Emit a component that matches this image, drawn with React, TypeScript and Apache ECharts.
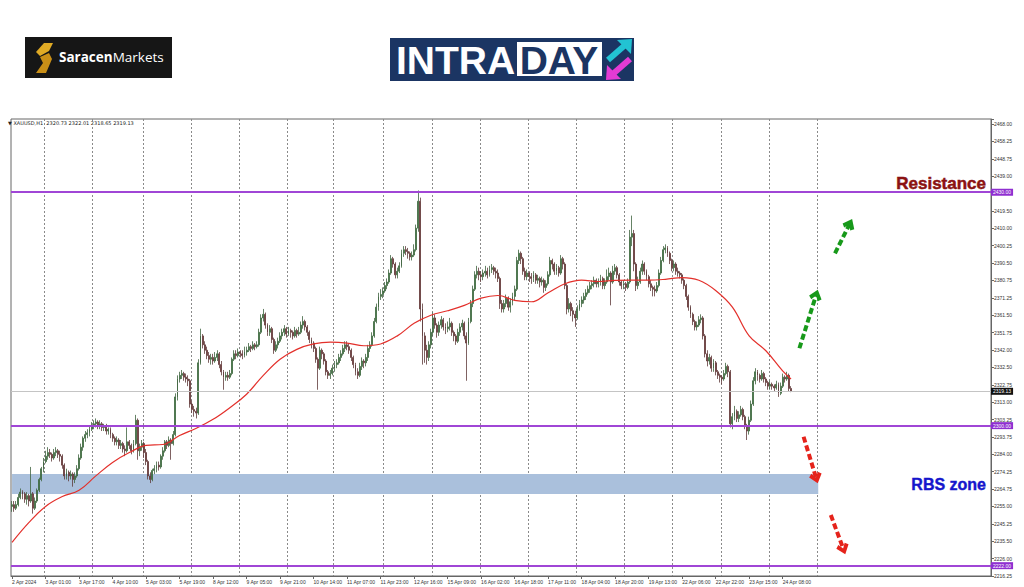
import React, { useEffect, useRef } from 'react';
import * as echarts from 'echarts';

// ---------- DATA ----------
const xLabels = ['2 Apr 2024', '3 Apr 01:00', '3 Apr 17:00', '4 Apr 10:00', '5 Apr 03:00', '5 Apr 19:00', '8 Apr 12:00', '9 Apr 05:00', '9 Apr 21:00', '10 Apr 14:00', '11 Apr 07:00', '11 Apr 23:00', '12 Apr 16:00', '15 Apr 09:00', '16 Apr 02:00', '16 Apr 18:00', '17 Apr 11:00', '18 Apr 04:00', '18 Apr 20:00', '19 Apr 13:00', '22 Apr 06:00', '22 Apr 22:00', '23 Apr 15:00', '24 Apr 08:00'];
const barsPerLabel = 16;
const totalSlots = 468;
// bar slots where the dotted day separators are drawn
const gridLineBars = [16, 39, 63, 86, 109, 132, 154, 178, 201, 224, 247, 270, 293, 316, 339, 362, 385];

const priceTickLabels = ['2216.25', '2226.00', '2235.50', '2245.25', '2255.00', '2264.75', '2274.25', '2284.00', '2293.75', '2303.25', '2313.00', '2322.75', '2332.50', '2342.00', '2351.75', '2361.50', '2371.25', '2380.75', '2390.50', '2400.25', '2410.00', '2419.50', '', '2439.00', '2448.75', '2458.25', '2468.00'];
const priceTickStart = 2216.25;
const priceTickEnd = 2468;
const priceMax = 2470.8;

const headerText = '\u25BC XAUUSD,H1  2320.73 2322.01 2318.65 2319.13';
const levelLines = [2430, 2300, 2222];
const lastPrice = 2319.13;
const rbsZone = [2261.9, 2273.1];
const rbsZoneEndBar = 385;
// [fromBar, fromPrice, toBar, toPrice]
const greenArrows = [[376, 2343.1, 384, 2372.8], [393, 2396.0, 400, 2412.3]];
const redArrows = [[378, 2293.8, 384, 2270.8], [391, 2250.2, 397, 2231.3]];

// H1 candles [open, close, low, high], one array per 16-bar label block
const seg00 = [[2255, 2256, 2252, 2258], [2256, 2254, 2252, 2258], [2254, 2256, 2253, 2258], [2256, 2260, 2255, 2262], [2260, 2263, 2259, 2265], [2263, 2262, 2259, 2264], [2262, 2259, 2257, 2263], [2259, 2261, 2256, 2263], [2261, 2258, 2255, 2262], [2258, 2262, 2257, 2277], [2262, 2254, 2251, 2263], [2254, 2258, 2253, 2260], [2258, 2264, 2257, 2265], [2264, 2270, 2263, 2271], [2270, 2276, 2269, 2277], [2276, 2280, 2274, 2282]];
const seg01 = [[2280, 2283, 2279, 2286], [2283, 2285, 2281, 2288], [2285, 2284, 2282, 2287], [2284, 2282, 2280, 2285], [2282, 2285, 2281, 2287], [2285, 2286, 2283, 2288], [2286, 2284, 2282, 2287], [2284, 2283, 2280, 2286], [2283, 2278, 2276, 2284], [2278, 2272, 2270, 2279], [2272, 2274, 2270, 2276], [2274, 2272, 2269, 2275], [2272, 2273, 2270, 2275], [2273, 2270, 2266, 2274], [2270, 2272, 2268, 2274], [2272, 2276, 2271, 2278]];
const seg02 = [[2276, 2282, 2275, 2284], [2282, 2288, 2281, 2290], [2288, 2293, 2286, 2294], [2293, 2295, 2291, 2297], [2295, 2296, 2293, 2298], [2296, 2298, 2294, 2300], [2298, 2300, 2297, 2302], [2300, 2301, 2298, 2303], [2301, 2302, 2299, 2304], [2302, 2300, 2298, 2303], [2300, 2301, 2298, 2303], [2301, 2299, 2297, 2302], [2299, 2300, 2297, 2301], [2300, 2297, 2295, 2301], [2297, 2298, 2295, 2299], [2298, 2295, 2293, 2299]];
const seg03 = [[2295, 2293, 2291, 2296], [2293, 2291, 2289, 2294], [2291, 2292, 2289, 2294], [2292, 2289, 2287, 2293], [2289, 2290, 2287, 2292], [2290, 2287, 2285, 2291], [2287, 2286, 2283, 2289], [2286, 2291, 2285, 2299], [2291, 2289, 2287, 2292], [2289, 2286, 2284, 2290], [2286, 2290, 2285, 2292], [2290, 2303, 2289, 2306], [2303, 2286, 2281, 2304], [2286, 2288, 2283, 2290], [2288, 2290, 2286, 2292], [2290, 2285, 2282, 2291]];
const seg04 = [[2285, 2280, 2278, 2287], [2280, 2272, 2270, 2281], [2272, 2270, 2268, 2274], [2270, 2275, 2269, 2276], [2275, 2276, 2273, 2278], [2276, 2278, 2274, 2280], [2278, 2277, 2275, 2280], [2277, 2283, 2276, 2284], [2283, 2286, 2281, 2288], [2286, 2291, 2285, 2292], [2291, 2289, 2287, 2292], [2289, 2292, 2288, 2294], [2292, 2290, 2281, 2293], [2290, 2295, 2289, 2297], [2295, 2316, 2294, 2318], [2316, 2326, 2314, 2328]];
const seg05 = [[2326, 2328, 2324, 2330], [2328, 2329, 2326, 2331], [2329, 2327, 2325, 2330], [2327, 2326, 2324, 2329], [2326, 2325, 2322, 2328], [2325, 2312, 2310, 2326], [2312, 2309, 2307, 2314], [2309, 2308, 2305, 2311], [2308, 2307, 2304, 2310], [2307, 2335, 2306, 2337], [2335, 2350, 2334, 2354], [2350, 2345, 2343, 2351], [2345, 2342, 2340, 2347], [2342, 2339, 2337, 2344], [2339, 2337, 2335, 2341], [2337, 2338, 2334, 2340]];
const seg06 = [[2338, 2336, 2334, 2340], [2336, 2338, 2335, 2341], [2338, 2340, 2336, 2342], [2340, 2334, 2332, 2341], [2334, 2330, 2328, 2336], [2330, 2327, 2320, 2331], [2327, 2328, 2325, 2330], [2328, 2327, 2325, 2330], [2327, 2329, 2326, 2331], [2329, 2337, 2328, 2338], [2337, 2340, 2336, 2342], [2340, 2339, 2337, 2342], [2339, 2341, 2338, 2343], [2341, 2340, 2338, 2342], [2340, 2339, 2337, 2342], [2339, 2341, 2338, 2344]];
const seg07 = [[2341, 2342, 2339, 2344], [2342, 2344, 2341, 2346], [2344, 2343, 2341, 2345], [2343, 2345, 2342, 2347], [2345, 2344, 2342, 2346], [2344, 2345, 2343, 2347], [2345, 2352, 2344, 2354], [2352, 2360, 2351, 2362], [2360, 2362, 2358, 2365], [2362, 2356, 2354, 2363], [2356, 2352, 2350, 2357], [2352, 2354, 2350, 2356], [2354, 2348, 2346, 2355], [2348, 2342, 2340, 2349], [2342, 2345, 2341, 2347], [2345, 2347, 2343, 2349]];
const seg08 = [[2347, 2350, 2346, 2352], [2350, 2352, 2348, 2354], [2352, 2354, 2350, 2356], [2354, 2351, 2349, 2355], [2351, 2353, 2350, 2355], [2353, 2352, 2349, 2354], [2352, 2350, 2348, 2353], [2350, 2353, 2349, 2355], [2353, 2351, 2349, 2354], [2351, 2352, 2350, 2355], [2352, 2356, 2351, 2358], [2356, 2358, 2354, 2361], [2358, 2355, 2353, 2359], [2355, 2352, 2350, 2356], [2352, 2348, 2346, 2353], [2348, 2346, 2343, 2349]];
const seg09 = [[2346, 2343, 2341, 2347], [2343, 2337, 2335, 2344], [2337, 2332, 2320, 2338], [2332, 2342, 2331, 2344], [2342, 2340, 2337, 2343], [2340, 2336, 2334, 2341], [2336, 2330, 2328, 2337], [2330, 2328, 2326, 2331], [2328, 2329, 2326, 2331], [2329, 2332, 2328, 2334], [2332, 2334, 2330, 2336], [2334, 2335, 2332, 2337], [2335, 2338, 2334, 2340], [2338, 2340, 2336, 2342], [2340, 2343, 2339, 2345], [2343, 2345, 2341, 2347]];
const seg10 = [[2345, 2344, 2342, 2347], [2344, 2342, 2340, 2346], [2342, 2338, 2336, 2343], [2338, 2334, 2332, 2339], [2334, 2330, 2328, 2335], [2330, 2328, 2326, 2332], [2328, 2333, 2327, 2335], [2333, 2336, 2331, 2338], [2336, 2335, 2332, 2337], [2335, 2338, 2333, 2340], [2338, 2343, 2336, 2345], [2343, 2345, 2341, 2347], [2345, 2350, 2344, 2352], [2350, 2358, 2349, 2360], [2358, 2366, 2357, 2368], [2366, 2372, 2364, 2374]];
const seg11 = [[2372, 2373, 2370, 2376], [2373, 2375, 2371, 2377], [2375, 2378, 2374, 2380], [2378, 2380, 2376, 2382], [2380, 2385, 2379, 2387], [2385, 2393, 2384, 2395], [2393, 2390, 2388, 2394], [2390, 2384, 2382, 2391], [2384, 2386, 2382, 2388], [2386, 2389, 2385, 2391], [2389, 2396, 2388, 2398], [2396, 2398, 2394, 2400], [2398, 2397, 2395, 2400], [2397, 2396, 2393, 2399], [2396, 2394, 2392, 2397], [2394, 2395, 2392, 2397]];
const seg12 = [[2395, 2398, 2394, 2401], [2398, 2410, 2397, 2412], [2410, 2425, 2408, 2431], [2425, 2365, 2358, 2427], [2365, 2350, 2334, 2368], [2350, 2342, 2335, 2352], [2342, 2338, 2334, 2345], [2338, 2345, 2336, 2347], [2345, 2352, 2343, 2354], [2352, 2360, 2350, 2363], [2360, 2356, 2354, 2362], [2356, 2352, 2349, 2357], [2352, 2356, 2350, 2358], [2356, 2359, 2354, 2361], [2359, 2355, 2353, 2360], [2355, 2354, 2351, 2357]];
const seg13 = [[2354, 2355, 2352, 2358], [2355, 2357, 2353, 2360], [2357, 2352, 2350, 2358], [2352, 2350, 2347, 2353], [2350, 2347, 2345, 2351], [2347, 2352, 2346, 2354], [2352, 2355, 2350, 2357], [2355, 2357, 2353, 2359], [2357, 2350, 2348, 2358], [2350, 2346, 2325, 2352], [2346, 2358, 2345, 2360], [2358, 2368, 2357, 2370], [2368, 2376, 2366, 2378], [2376, 2384, 2375, 2386], [2384, 2386, 2382, 2389], [2386, 2384, 2381, 2388]];
const seg14 = [[2384, 2383, 2380, 2386], [2383, 2385, 2381, 2387], [2385, 2386, 2383, 2389], [2386, 2384, 2382, 2388], [2384, 2387, 2383, 2389], [2387, 2388, 2385, 2390], [2388, 2386, 2384, 2389], [2386, 2385, 2382, 2388], [2385, 2382, 2380, 2387], [2382, 2368, 2365, 2383], [2368, 2365, 2363, 2370], [2365, 2368, 2363, 2370], [2368, 2371, 2366, 2373], [2371, 2366, 2364, 2372], [2366, 2369, 2363, 2371], [2369, 2372, 2367, 2374]];
const seg15 = [[2372, 2376, 2370, 2378], [2376, 2392, 2375, 2394], [2392, 2396, 2390, 2398], [2396, 2393, 2390, 2397], [2393, 2386, 2384, 2394], [2386, 2383, 2381, 2388], [2383, 2385, 2381, 2387], [2385, 2383, 2380, 2386], [2383, 2382, 2379, 2385], [2382, 2384, 2380, 2386], [2384, 2381, 2379, 2385], [2381, 2382, 2379, 2384], [2382, 2380, 2377, 2383], [2380, 2381, 2378, 2383], [2381, 2377, 2374, 2382], [2377, 2379, 2375, 2381]];
const seg16 = [[2379, 2384, 2378, 2386], [2384, 2392, 2383, 2394], [2392, 2390, 2387, 2393], [2390, 2386, 2384, 2391], [2386, 2388, 2384, 2390], [2388, 2385, 2383, 2389], [2385, 2393, 2384, 2395], [2393, 2390, 2387, 2394], [2390, 2378, 2376, 2391], [2378, 2365, 2362, 2379], [2365, 2368, 2363, 2371], [2368, 2364, 2361, 2369], [2364, 2362, 2358, 2366], [2362, 2360, 2355, 2364], [2360, 2365, 2359, 2367], [2365, 2368, 2364, 2370]];
const seg17 = [[2368, 2370, 2366, 2372], [2370, 2372, 2368, 2374], [2372, 2374, 2370, 2376], [2374, 2376, 2373, 2378], [2376, 2378, 2374, 2380], [2378, 2379, 2376, 2381], [2379, 2381, 2377, 2383], [2381, 2379, 2377, 2382], [2379, 2380, 2377, 2382], [2380, 2382, 2378, 2384], [2382, 2378, 2376, 2383], [2378, 2380, 2376, 2382], [2380, 2383, 2379, 2387], [2383, 2385, 2381, 2388], [2385, 2380, 2367, 2386], [2380, 2386, 2379, 2389]];
const seg18 = [[2386, 2388, 2384, 2390], [2388, 2384, 2382, 2389], [2384, 2380, 2378, 2385], [2380, 2378, 2376, 2381], [2378, 2379, 2376, 2381], [2379, 2377, 2375, 2380], [2377, 2380, 2376, 2382], [2380, 2405, 2379, 2409], [2405, 2407, 2400, 2417], [2407, 2390, 2386, 2409], [2390, 2378, 2375, 2391], [2378, 2380, 2376, 2383], [2380, 2386, 2379, 2388], [2386, 2390, 2384, 2392], [2390, 2386, 2384, 2391], [2386, 2383, 2381, 2387]];
const seg19 = [[2383, 2379, 2377, 2384], [2379, 2377, 2375, 2381], [2377, 2376, 2372, 2378], [2376, 2375, 2372, 2378], [2375, 2378, 2374, 2380], [2378, 2385, 2377, 2387], [2385, 2392, 2384, 2394], [2392, 2398, 2391, 2400], [2398, 2399, 2396, 2401], [2399, 2396, 2394, 2400], [2396, 2392, 2390, 2397], [2392, 2388, 2386, 2393], [2388, 2390, 2386, 2392], [2390, 2386, 2384, 2391], [2386, 2385, 2383, 2388], [2385, 2384, 2382, 2386]];
const seg20 = [[2384, 2381, 2379, 2385], [2381, 2378, 2376, 2382], [2378, 2372, 2370, 2379], [2372, 2366, 2364, 2373], [2366, 2362, 2360, 2367], [2362, 2358, 2356, 2363], [2358, 2355, 2353, 2359], [2355, 2356, 2353, 2358], [2356, 2359, 2355, 2361], [2359, 2360, 2357, 2362], [2360, 2350, 2348, 2361], [2350, 2340, 2338, 2351], [2340, 2336, 2333, 2342], [2336, 2338, 2334, 2340], [2338, 2332, 2330, 2339], [2332, 2335, 2330, 2337]];
const seg21 = [[2335, 2330, 2328, 2336], [2330, 2328, 2326, 2331], [2328, 2327, 2324, 2329], [2327, 2326, 2323, 2328], [2326, 2329, 2325, 2331], [2329, 2333, 2328, 2335], [2333, 2330, 2327, 2334], [2330, 2301, 2299, 2331], [2301, 2305, 2298, 2307], [2305, 2308, 2303, 2311], [2308, 2304, 2302, 2309], [2304, 2306, 2302, 2308], [2306, 2309, 2305, 2311], [2309, 2305, 2303, 2310], [2305, 2300, 2298, 2306], [2300, 2297, 2292, 2301]];
const seg22 = [[2297, 2303, 2295, 2305], [2303, 2312, 2302, 2314], [2312, 2325, 2311, 2327], [2325, 2330, 2323, 2332], [2330, 2328, 2325, 2331], [2328, 2326, 2324, 2329], [2326, 2329, 2325, 2331], [2329, 2326, 2324, 2330], [2326, 2324, 2322, 2327], [2324, 2322, 2320, 2325], [2322, 2323, 2320, 2325], [2323, 2322, 2320, 2324], [2322, 2321, 2319, 2323], [2321, 2323, 2320, 2325], [2323, 2318, 2316, 2324], [2318, 2322, 2317, 2324]];
const seg23 = [[2322, 2327, 2321, 2329], [2327, 2326, 2324, 2328], [2326, 2328, 2325, 2330], [2328, 2320.73, 2319, 2329], [2320.73, 2319.13, 2318.65, 2322.01]];

// moving average: bar index -> value
const maBars = [0, 8, 16, 24, 32, 40, 48, 56, 64, 72, 80, 88, 96, 104, 112, 120, 128, 136, 144, 152, 160, 168, 176, 184, 192, 200, 208, 216, 224, 232, 240, 248, 256, 264, 272, 280, 288, 296, 304, 312, 320, 328, 336, 344, 352, 360, 368, 372];
const maValues = [2235, 2246, 2255, 2260.5, 2264, 2272, 2279.5, 2285, 2289, 2289.5, 2294.5, 2298.5, 2303.5, 2310, 2317.5, 2328, 2337, 2342.5, 2345.5, 2346.5, 2346, 2344.5, 2345.5, 2350, 2357, 2361.5, 2364, 2367, 2371, 2372.5, 2369.8, 2369, 2374, 2379, 2381, 2380.3, 2380.9, 2381, 2381, 2381.5, 2382.5, 2381, 2375.3, 2366, 2350, 2341.7, 2330.5, 2326];

// ---------- BUILD ----------
const candles = [...seg00, ...seg01, ...seg02, ...seg03, ...seg04, ...seg05, ...seg06, ...seg07, ...seg08, ...seg09, ...seg10, ...seg11, ...seg12, ...seg13, ...seg14, ...seg15, ...seg16, ...seg17, ...seg18, ...seg19, ...seg20, ...seg21, ...seg22, ...seg23];
const categories = Array.from({ length: totalSlots }, (_, i) => String(i));
const priceTickStep = (priceTickEnd - priceTickStart) / (priceTickLabels.length - 1);
const maData = maBars.map((b, i) => [b, maValues[i]]);
const lastLabelBar = (xLabels.length - 1) * barsPerLabel;
const isLabelBar = (i: number) => i % barsPerLabel === 0 && i <= lastLabelBar;

const PURPLE = '#a046d6';
const chevron = 'path://M5,0 L10,7 L7.6,9.4 L5,5.2 L2.4,9.4 L0,7 Z';

const arrowLines = [
  ...greenArrows.map((a) => ['#17991a', a]),
  ...redArrows.map((a) => ['#e5231b', a]),
].map(([color, a]: any) => [
  { coord: [a[0], a[1]], symbol: 'none' },
  { coord: [a[2], a[3]], symbol: chevron, symbolSize: [13, 11], lineStyle: { color, width: 4, type: [6, 3], opacity: 1 } },
]);

const levelLineData: any[] = levelLines.map((v) => ({
  yAxis: v,
  lineStyle: { color: PURPLE, width: 2, type: 'solid' },
  label: { show: true, position: 'end', distance: 0, formatter: () => v.toFixed(2), fontSize: 5, color: '#fff', backgroundColor: '#8f2fd0', padding: [1, 2, 1, 2] },
}));
levelLineData.push({
  yAxis: lastPrice,
  lineStyle: { color: '#c4c4c4', width: 1, type: 'solid' },
  label: { show: true, position: 'end', distance: 0, formatter: () => lastPrice.toFixed(2), fontSize: 5, color: '#fff', backgroundColor: '#111', padding: [1, 2, 1, 2] },
});

const option: any = {
  animation: false,
  backgroundColor: '#ffffff',
  textStyle: { fontFamily: 'Liberation Sans' },
  grid: { left: 11, right: 33, top: 119, bottom: 11, show: true, borderColor: '#666', borderWidth: 1, backgroundColor: 'transparent' },
  xAxis: {
    type: 'category',
    data: categories,
    boundaryGap: true,
    axisLine: { show: true, lineStyle: { color: '#666', width: 1 } },
    axisTick: { show: true, interval: (i: number) => isLabelBar(i), alignWithLabel: true, length: 3, lineStyle: { color: '#666' } },
    axisLabel: {
      interval: (i: number) => isLabelBar(i),
      align: 'left',
      margin: 3,
      fontSize: 5,
      color: '#333',
      formatter: (_v: string, i: number) => (isLabelBar(i) ? xLabels[i / barsPerLabel] : ''),
    },
    splitLine: {
      show: true,
      interval: (i: number) => gridLineBars.includes(i),
      lineStyle: { color: '#8a8a8a', type: [2, 2], width: 1 },
    },
  },
  yAxis: {
    type: 'value',
    position: 'right',
    min: priceTickStart,
    max: priceMax,
    interval: priceTickStep,
    axisLine: { show: true, lineStyle: { color: '#666' } },
    axisTick: { show: true, length: 3, lineStyle: { color: '#666' } },
    splitLine: { show: false },
    axisLabel: {
      fontSize: 5,
      color: '#333',
      margin: 3,
      formatter: (v: number) => {
        const k = (v - priceTickStart) / priceTickStep;
        const r = Math.round(k);
        if (Math.abs(k - r) > 0.01 || r < 0 || r >= priceTickLabels.length) return '';
        return priceTickLabels[r];
      },
    },
  },
  series: [
    {
      type: 'candlestick',
      data: candles,
      barWidth: 1.4,
      z: 3,
      itemStyle: { color: '#2b8f30', color0: '#8a1f1f', borderColor: '#3f633f', borderColor0: '#5e3a3a', borderWidth: 0.8 },
      markArea: {
        silent: true,
        itemStyle: { color: '#aac0dc', opacity: 1 },
        data: [[{ xAxis: 0, yAxis: rbsZone[1] }, { xAxis: rbsZoneEndBar, yAxis: rbsZone[0] }]],
      },
      markLine: {
        silent: true,
        symbol: ['none', 'none'],
        data: levelLineData,
      },
    },
    {
      type: 'line',
      data: maData,
      smooth: 0.4,
      symbol: 'none',
      z: 4,
      lineStyle: { color: '#e3302b', width: 1.2 },
      markLine: {
        silent: true,
        symbol: ['none', chevron],
        label: { show: false },
        data: arrowLines,
      },
    },
  ],
  graphic: [
    { type: 'text', x: 8, y: 123, style: { text: headerText, fontSize: 5, fill: '#222', verticalAlign: 'middle', fontFamily: 'DejaVu Sans' } },
    // Saracen Markets logo
    { type: 'rect', shape: { x: 25, y: 37, width: 147, height: 41 }, style: { fill: '#161616' } },
    { type: 'polygon', shape: { points: [[44, 43], [53, 43], [49, 51], [40, 56], [36, 52]] }, style: { fill: '#e0aa25' } },
    { type: 'polygon', shape: { points: [[40, 57], [49, 53], [52, 59], [46, 73], [36, 73], [43, 63]] }, style: { fill: '#c98f17' } },
    {
      type: 'text', x: 59, y: 57,
      style: {
        text: '{b|Saracen}{n|Markets}', verticalAlign: 'middle',
        rich: {
          b: { fontSize: 13.5, fontWeight: 'bold', fill: '#ffffff', fontFamily: 'Open Sans' },
          n: { fontSize: 13.5, fontWeight: 'normal', fill: '#ffffff', fontFamily: 'Open Sans' },
        },
      },
    },
    // INTRADAY logo
    { type: 'rect', shape: { x: 390, y: 38, width: 244, height: 43 }, style: { fill: '#1b3563' } },
    { type: 'rect', shape: { x: 517, y: 42, width: 85, height: 34 }, style: { fill: '#ffffff' } },
    { type: 'text', x: 396, y: 60, style: { text: 'INTRA', fontSize: 39, fontWeight: 'bold', fill: '#ffffff', verticalAlign: 'middle', fontFamily: 'Liberation Sans' } },
    { type: 'text', x: 559, y: 60, style: { text: 'DAY', fontSize: 39, fontWeight: 'bold', fill: '#1b3563', align: 'center', verticalAlign: 'middle', fontFamily: 'Liberation Sans' } },
    { type: 'line', shape: { x1: 608, y1: 60, x2: 624, y2: 46 }, style: { stroke: '#22c3d3', lineWidth: 6 } },
    { type: 'polygon', shape: { points: [[632, 39], [631, 54], [617, 40]] }, style: { fill: '#22c3d3' } },
    { type: 'line', shape: { x1: 630, y1: 59, x2: 614, y2: 73 }, style: { stroke: '#e43bd4', lineWidth: 6 } },
    { type: 'polygon', shape: { points: [[606, 80], [607, 65], [621, 79]] }, style: { fill: '#e43bd4' } },
    // annotations
    { type: 'text', x: 986, y: 183, style: { text: 'Resistance', fontSize: 17, fontWeight: 'bold', fill: '#8b1212', stroke: '#8b1212', lineWidth: 0.5, align: 'right', verticalAlign: 'middle', fontFamily: 'Liberation Sans' } },
    { type: 'text', x: 986, y: 484, style: { text: 'RBS zone', fontSize: 16, fontWeight: 'bold', fill: '#1515cc', stroke: '#1515cc', lineWidth: 0.4, align: 'right', verticalAlign: 'middle', fontFamily: 'Liberation Sans' } },
  ],
};

export default function App() {
  const ref = useRef<HTMLDivElement>(null);
  useEffect(() => {
    if (!ref.current) return;
    const chart = echarts.init(ref.current, undefined, { renderer: 'svg' });
    chart.setOption(option);
    return () => chart.dispose();
  }, []);
  return <div ref={ref} style={{ position: 'fixed', left: 0, top: 0, width: 1024, height: 587, background: '#fff' }} />;
}
